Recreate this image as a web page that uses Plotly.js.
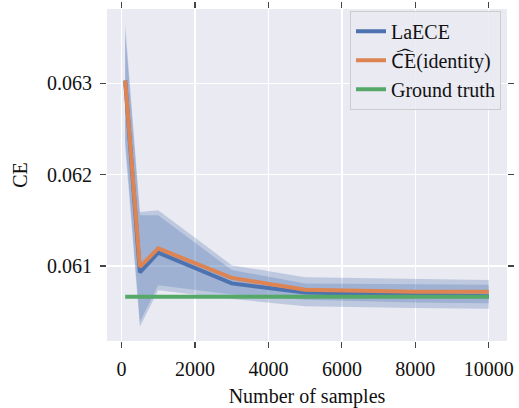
<!DOCTYPE html>
<html><head><meta charset="utf-8">
<script src="https://cdn.plot.ly/plotly-3.0.1.min.js"></script>
<style>body{margin:0;padding:0;background:#fff}#c{width:519px;height:408px}</style>
</head><body><div id="c"></div>
<script>
const samples = [100, 500, 1000, 3000, 5000, 8000, 10000];
const laece = [0.06303, 0.06093, 0.061146, 0.06081, 0.06071, 0.06068, 0.06067];
const ceIdentity = [0.06303, 0.06099, 0.061193, 0.06087, 0.06074, 0.06072, 0.06072];
const groundTruth = [0.060665, 0.060665, 0.060665, 0.060665, 0.060665, 0.060665, 0.060665];
const bandOuterUpper = [0.06365, 0.06159, 0.06161, 0.06101, 0.060877, 0.06086, 0.060847];
const bandOuterLower = [0.0623, 0.060337, 0.060735, 0.06064, 0.06056, 0.06054, 0.060533];
const bandInnerUpper = [0.06355, 0.061557, 0.061557, 0.060956, 0.06081, 0.0608, 0.060796];
const bandInnerLower = [0.0624, 0.06039, 0.06079, 0.06069, 0.06063, 0.0606, 0.060592];
const xTicks = [0, 2000, 4000, 6000, 8000, 10000];
const yTicks = [0.061, 0.062, 0.063];
const yTickLabels = ['0.061', '0.062', '0.063'];

const blue = '#4c72b0', orange = '#dd8452', green = '#55a868';
function band(up, lo) {
  return {
    x: samples.concat(samples.slice().reverse()),
    y: up.concat(lo.slice().reverse()),
    fill: 'toself', mode: 'lines', line: {width: 0},
    fillcolor: 'rgba(76,114,176,0.28)', showlegend: false, hoverinfo: 'skip'
  };
}
const traces = [
  band(bandOuterUpper, bandOuterLower),
  band(bandInnerUpper, bandInnerLower),
  {x: samples, y: laece, mode: 'lines', name: 'LaECE', line: {color: blue, width: 4}},
  {x: samples, y: ceIdentity, mode: 'lines', name: 'C\u1DCDE(identity)', line: {color: orange, width: 4}},
  {x: samples, y: groundTruth, mode: 'lines', name: 'Ground truth', line: {color: green, width: 4}}
];
const font = {family: '"Liberation Serif", "DejaVu Serif", serif', size: 20, color: '#111'};
const layout = {
  width: 519, height: 408,
  margin: {l: 107, r: 12, t: 9, b: 67},
  paper_bgcolor: '#fff', plot_bgcolor: '#eaeaf2',
  font: font,
  xaxis: {
    range: [-395, 10495], tickvals: xTicks, ticktext: xTicks.map(String),
    showgrid: true, gridcolor: '#fff', gridwidth: 1.3, zeroline: false,
    ticks: 'outside', ticklen: 6, tickwidth: 1.2, tickcolor: '#444', mirror: 'ticks', showline: false,
    tickfont: font, ticklabelstandoff: 4,
    title: {text: 'Number of samples', font: font, standoff: 10}
  },
  yaxis: {
    range: [0.06018, 0.063812], tickvals: yTicks, ticktext: yTickLabels,
    showgrid: true, gridcolor: '#fff', gridwidth: 1.3, zeroline: false,
    ticks: 'outside', ticklen: 6, tickwidth: 1.2, tickcolor: '#444', mirror: 'ticks', showline: false,
    tickfont: font, ticklabelstandoff: 4,
    title: {text: 'CE', font: font, standoff: 14}
  },
  legend: {
    x: 0.985, y: 0.995, xanchor: 'right', yanchor: 'top',
    bgcolor: 'rgba(234,234,242,0.8)', bordercolor: '#cccccc', borderwidth: 1,
    font: font, tracegroupgap: 0
  },
  showlegend: true
};
Plotly.newPlot('c', traces, layout, {displayModeBar: false, staticPlot: true});
</script></body></html>
